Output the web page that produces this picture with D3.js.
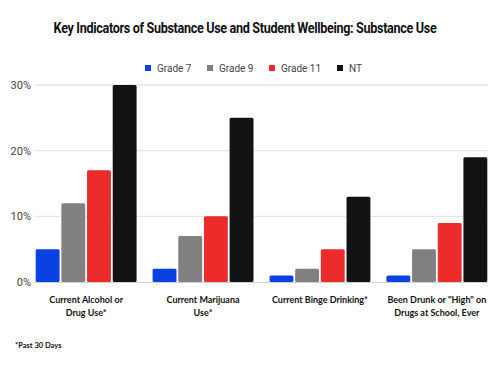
<!DOCTYPE html>
<html>
<head>
<meta charset="utf-8">
<script src="https://cdn.jsdelivr.net/npm/d3@7"></script>
<style>
  body { margin: 0; background: #fff; }
  svg { display: block; }
  .tick text { font-family: Roboto, sans-serif; font-size: 11px; fill: #444; }
</style>
</head>
<body>
<div id="chart"></div>
<script>
// data
var categories = [
  ["Current Alcohol or", "Drug Use*"],
  ["Current Marijuana", "Use*"],
  ["Current Binge Drinking*"],
  ["Been Drunk or \"High\" on", "Drugs at School, Ever"]
];
var seriesNames = ["Grade 7", "Grade 9", "Grade 11", "NT"];
var grade7 = [5, 2, 1, 1];
var grade9 = [12, 7, 2, 5];
var grade11 = [17, 10, 5, 9];
var nt = [30, 25, 13, 19];
var yTicks = [0, 10, 20, 30];
var colors = ["#0b40e3", "#808080", "#ee2b2b", "#121212"];

var series = [grade7, grade9, grade11, nt];

var width = 500, height = 375;

var svg = d3.select("#chart").append("svg")
  .attr("width", width)
  .attr("height", height);

svg.append("rect")
  .attr("width", width).attr("height", height)
  .attr("fill", "#fff");

// title (slightly condensed, like the original's font)
svg.append("text")
  .attr("transform", "translate(245,33) scale(0.9,1)")
  .attr("text-anchor", "middle")
  .style("font-family", "Roboto, sans-serif")
  .style("font-weight", "700")
  .style("font-size", "14px")
  .style("letter-spacing", "-0.35px")
  .style("fill", "#111")
  .text("Key Indicators of Substance Use and Student Wellbeing: Substance Use");

// legend
var legendX = [145, 207, 269, 337];
var legend = svg.selectAll(".legend").data(seriesNames).enter().append("g")
  .attr("class", "legend")
  .attr("transform", function(d, i){ return "translate(" + legendX[i] + ",68)"; });

legend.append("rect")
  .attr("x", 0).attr("y", -3)
  .attr("width", 6).attr("height", 6)
  .attr("fill", function(d, i){ return colors[i]; });

legend.append("text")
  .attr("x", 12)
  .attr("y", 4)
  .style("font-family", "Roboto, sans-serif")
  .style("font-size", "10px")
  .style("fill", "#444")
  .text(function(d){ return d; });

// scales
var x0 = d3.scaleBand()
  .domain(d3.range(categories.length))
  .range([35.7, 487.3])
  .paddingInner(0.137)
  .paddingOuter(0);

var x1 = d3.scaleBand()
  .domain(d3.range(seriesNames.length))
  .range([0, x0.bandwidth()])
  .paddingInner(0.07);

var y = d3.scaleLinear()
  .domain([0, 30])
  .range([282, 85]);

// grid
svg.append("g")
  .selectAll("line").data(yTicks.slice(1)).enter().append("line")
  .attr("x1", 35).attr("x2", 488)
  .attr("y1", function(d){ return y(d); })
  .attr("y2", function(d){ return y(d); })
  .attr("stroke", "#e6e6e6")
  .attr("stroke-width", 1.3);

// y axis
var yAxis = svg.append("g")
  .attr("transform", "translate(33,0)")
  .call(d3.axisLeft(y).tickValues(yTicks).tickSize(0).tickPadding(2)
    .tickFormat(function(d){ return d + "%"; }));
yAxis.select(".domain").remove();

// bars
var groups = svg.selectAll(".group").data(categories).enter().append("g")
  .attr("class", "group")
  .attr("transform", function(d, i){ return "translate(" + x0(i) + ",0)"; });

groups.selectAll("rect")
  .data(function(d, i){ return series.map(function(s, j){ return { s: j, v: s[i] }; }); })
  .enter().append("rect")
  .attr("x", function(d){ return x1(d.s); })
  .attr("y", function(d){ return y(d.v); })
  .attr("width", x1.bandwidth())
  .attr("height", function(d){ return y(0) - y(d.v); })
  .attr("rx", 1.5)
  .attr("fill", function(d){ return colors[d.s]; });

// baseline
svg.append("line")
  .attr("x1", 35).attr("x2", 488)
  .attr("y1", y(0) + 0.5).attr("y2", y(0) + 0.5)
  .attr("stroke", "#d0d0d0")
  .attr("stroke-width", 1);

// category labels
var labels = svg.selectAll(".cat").data(categories).enter().append("text")
  .attr("class", "cat")
  .attr("text-anchor", "middle")
  .attr("x", function(d, i){ return x0(i) + x0.bandwidth() / 2; })
  .attr("y", 303)
  .style("font-family", "Lato, sans-serif")
  .style("font-weight", "700")
  .style("font-size", "9px")
  .style("fill", "#111");

labels.selectAll("tspan").data(function(d){ return d; }).enter().append("tspan")
  .attr("x", function(){ return d3.select(this.parentNode).attr("x"); })
  .attr("dy", function(d, i){ return i === 0 ? 0 : 13; })
  .text(function(d){ return d; });

// footnote
svg.append("text")
  .attr("x", 15)
  .attr("y", 348)
  .style("font-family", "Lato, sans-serif")
  .style("font-weight", "700")
  .style("font-size", "7.5px")
  .style("fill", "#111")
  .text("*Past 30 Days");
</script>
</body>
</html>
